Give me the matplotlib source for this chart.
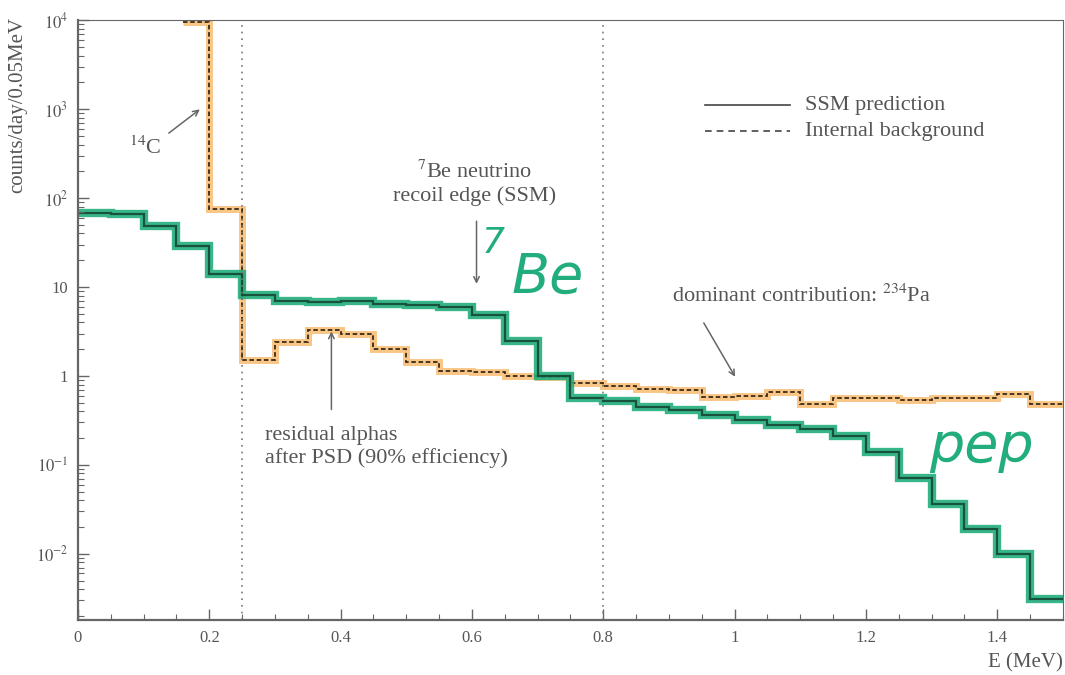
import numpy as np
import matplotlib
matplotlib.use("Agg")
import matplotlib.pyplot as plt
from matplotlib.ticker import FixedLocator, MultipleLocator, LogLocator, NullFormatter

plt.rcParams['font.family'] = 'Liberation Serif'
plt.rcParams['mathtext.fontset'] = 'stix'

# --- data ---
ssm_edges = [0.0, 0.05, 0.1, 0.15, 0.2, 0.25, 0.3, 0.35, 0.4, 0.45, 0.5,
             0.55, 0.6, 0.65, 0.7, 0.75, 0.8, 0.85, 0.9, 0.95, 1.0,
             1.05, 1.1, 1.15, 1.2, 1.25, 1.3, 1.35, 1.4, 1.45, 1.5]
ssm_counts = [68, 66, 48, 29, 14, 8.2, 6.9, 6.8, 7.0, 6.5, 6.2,
              6.0, 4.8, 2.5, 1.0, 0.57, 0.52, 0.45, 0.41, 0.36, 0.32,
              0.28, 0.25, 0.21, 0.14, 0.072, 0.036, 0.019, 0.010, 0.0031]

bg_edges = [0.16, 0.2, 0.25, 0.3, 0.35, 0.4, 0.45, 0.5,
            0.55, 0.6, 0.65, 0.7, 0.75, 0.8, 0.85, 0.9, 0.95, 1.0,
            1.05, 1.1, 1.15, 1.2, 1.25, 1.3, 1.35, 1.4, 1.45, 1.5]
bg_counts = [9500, 75, 1.5, 2.4, 3.3, 3.0, 2.0,
             1.44, 1.14, 1.1, 1.0, 0.97, 0.83, 0.78, 0.72, 0.70, 0.58,
             0.60, 0.66, 0.48, 0.56, 0.56, 0.54, 0.56, 0.57, 0.62, 0.48]

cut_lines = [0.25, 0.8]

ytick_vals = [1e-2, 1e-1, 1, 10, 1e2, 1e3, 1e4]
ytick_labels = [r'$10^{-2}$', r'$10^{-1}$', '1', '10', r'$10^{2}$', r'$10^{3}$', r'$10^{4}$']
xtick_vals = [0, 0.2, 0.4, 0.6, 0.8, 1.0, 1.2, 1.4]
xtick_labels = ['0', '0.2', '0.4', '0.6', '0.8', '1', '1.2', '1.4']

GREEN = '#22ad7c'
ORANGE = '#f5a035'
TXT = '#555555'

fig = plt.figure(figsize=(10.65, 6.75), dpi=100)
ax = fig.add_axes([0.0732, 0.0815, 0.9248, 0.8885])

# internal background: orange highlight + dashed line
ax.stairs(bg_counts, bg_edges, baseline=None, color=ORANGE, lw=5, alpha=0.6)
ax.stairs(bg_counts, bg_edges, baseline=None, color='#3a2a1a', lw=1.3,
          linestyle=(0, (2.5, 1.5)))

# SSM prediction: green highlight + solid line
ax.stairs(ssm_counts, ssm_edges, baseline=None, color=GREEN, lw=6, alpha=0.9)
ax.stairs(ssm_counts, ssm_edges, baseline=None, color='#0f3a2a', lw=1.6, alpha=0.8)

for xc in cut_lines:
    ax.axvline(xc, color='#777777', lw=1.2, linestyle=(0, (1, 3)))

ax.set_yscale('log')
ax.set_xlim(0, 1.5)
ax.set_ylim(1.8e-3, 1e4)

ax.yaxis.set_major_locator(FixedLocator(ytick_vals))
ax.set_yticklabels(ytick_labels)
ax.yaxis.set_minor_locator(LogLocator(base=10, subs=np.arange(2, 10)))
ax.yaxis.set_minor_formatter(NullFormatter())
ax.set_xticks(xtick_vals)
ax.set_xticklabels(xtick_labels)
ax.xaxis.set_minor_locator(MultipleLocator(0.05))

ax.tick_params(which='both', direction='in', colors='#666666', labelcolor=TXT,
               labelsize=12, top=False, right=False)
ax.tick_params(which='major', length=8, width=1, pad=7)
ax.tick_params(which='minor', length=4, width=0.8)
for sp in ax.spines.values():
    sp.set_color('#666666')
ax.spines['left'].set_linewidth(1.6)
ax.spines['bottom'].set_linewidth(1.6)

ax.set_ylabel('counts/day/0.05MeV', fontsize=15, color=TXT, loc='top')
ax.yaxis.set_label_coords(-0.051, 1.005)
ax.set_xlabel('E (MeV)', fontsize=15, color=TXT, loc='right')
ax.xaxis.set_label_coords(1.0, -0.055)

# annotations
FS = 16
arrow = dict(arrowstyle='->', color='#666666', lw=1.1)
ax.annotate('', xy=(0.189, 1040), xytext=(0.135, 515), arrowprops=arrow)
ax.text(0.103, 370, r'$^{14}$C', fontsize=FS, color=TXT, ha='center', va='center')

ax.text(0.604, 148, r'$^{7}$Be neutrino' + '\nrecoil edge (SSM)', fontsize=FS,
        color=TXT, ha='center', va='center', linespacing=1.25)
ax.annotate('', xy=(0.607, 10.1), xytext=(0.607, 59), arrowprops=arrow)

ax.annotate('', xy=(0.386, 3.4), xytext=(0.386, 0.39), arrowprops=arrow)
ax.text(0.285, 0.158, 'residual alphas\nafter PSD (90% efficiency)', fontsize=FS,
        color=TXT, ha='left', va='center', linespacing=1.25)

ax.text(1.102, 8.0, r'dominant contribution: $^{234}$Pa', fontsize=FS,
        color=TXT, ha='center', va='center')
ax.annotate('', xy=(1.003, 0.92), xytext=(0.951, 4.2), arrowprops=arrow)

# handwritten labels
ax.text(0.633, 31, '7', fontsize=26, color=GREEN, style='italic',
        family='DejaVu Sans', ha='center', va='center')
ax.text(0.715, 13, 'Be', fontsize=40, color=GREEN, style='italic',
        family='DejaVu Sans', ha='center', va='center')
ax.text(1.376, 0.162, 'pep', fontsize=40, color=GREEN, style='italic',
        family='DejaVu Sans', ha='center', va='center')

# legend drawn by hand
ax.plot([0.637, 0.723], [0.858, 0.858], transform=ax.transAxes, color='#444444', lw=1.2)
ax.plot([0.637, 0.723], [0.815, 0.815], transform=ax.transAxes, color='#444444', lw=1.2,
        linestyle=(0, (4, 3)))
ax.text(0.738, 0.858, 'SSM prediction', transform=ax.transAxes, fontsize=FS,
        color=TXT, va='center')
ax.text(0.738, 0.815, 'Internal background', transform=ax.transAxes, fontsize=FS,
        color=TXT, va='center')

fig.savefig('out.png', dpi=100)
